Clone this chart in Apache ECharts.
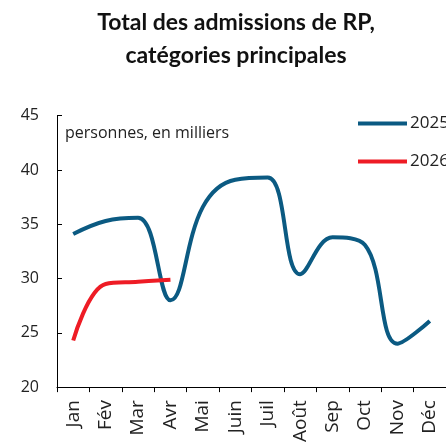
<!DOCTYPE html>
<html>
<head>
<meta charset="utf-8">
<script src="https://cdn.jsdelivr.net/npm/echarts@6/dist/echarts.min.js"></script>
<style>
  html, body { margin: 0; padding: 0; background: #fff; }
  #chart { width: 446px; height: 445px; }
</style>
</head>
<body>
<div id="chart"></div>
<script>
  // months (x axis)
  var months = ['Jan', 'Fév', 'Mar', 'Avr', 'Mai', 'Juin', 'Juil', 'Août', 'Sep', 'Oct', 'Nov', 'Déc'];
  // thousands of people
  var values2025 = [34.1, 35.3, 35.6, 28.0, 36.6, 39.1, 39.3, 30.4, 33.8, 33.1, 24.0, 26.1];
  var values2026 = [24.3, 29.5, 29.7, 29.9];
  var yTicks = [20, 25, 30, 35, 40, 45];

  var chart = echarts.init(document.getElementById('chart'));

  var FONT = 'Open Sans';
  var INK = '#222';

  var option = {
    animation: false,
    title: {
      text: 'Total des admissions de RP,\ncatégories principales',
      left: 231,
      top: 1,
      textAlign: 'center',
      textStyle: {
        fontFamily: 'Lato',
        fontWeight: 'bold',
        fontSize: 23,
        lineHeight: 33,
        color: '#111'
      }
    },
    legend: {
      orient: 'vertical',
      left: 353,
      top: 110,
      itemWidth: 49,
      itemHeight: 4,
      itemGap: 21,
      icon: 'rect',
      textStyle: { fontFamily: FONT, fontSize: 17, color: INK, padding: [0, 0, 0, -2] },
      data: ['2025', '2026']
    },
    graphic: [{
      type: 'text',
      left: 65,
      top: 125,
      style: {
        text: 'personnes, en milliers',
        font: '16px "Open Sans"',
        fill: INK
      }
    }],
    grid: {
      left: 57,
      right: -8,
      top: 115.7,
      bottom: 48.3
    },
    xAxis: {
      type: 'category',
      data: months,
      boundaryGap: true,
      axisLine: { lineStyle: { color: '#000', width: 1 } },
      axisTick: { show: true, length: 5, lineStyle: { color: '#000' } },
      axisLabel: {
        rotate: 90,
        margin: 13,
        fontFamily: FONT,
        fontSize: 19,
        color: INK,
        interval: 0
      }
    },
    yAxis: {
      type: 'value',
      min: yTicks[0],
      max: yTicks[yTicks.length - 1],
      interval: 5,
      splitLine: { show: false },
      axisLine: { show: true, lineStyle: { color: '#000', width: 1 } },
      axisTick: { show: true, inside: true, length: 5, lineStyle: { color: '#000' } },
      axisLabel: {
        margin: 18,
        fontFamily: FONT,
        fontSize: 16,
        color: INK
      }
    },
    series: [
      {
        name: '2025',
        type: 'line',
        data: values2025,
        smooth: 0.4,
        showSymbol: false,
        color: '#0b5a82',
        lineStyle: { width: 4, color: '#0b5a82' }
      },
      {
        name: '2026',
        type: 'line',
        data: values2026,
        smooth: 0.4,
        showSymbol: false,
        color: '#ee1c25',
        lineStyle: { width: 4, color: '#ee1c25' }
      }
    ]
  };

  chart.setOption(option);
</script>
</body>
</html>
